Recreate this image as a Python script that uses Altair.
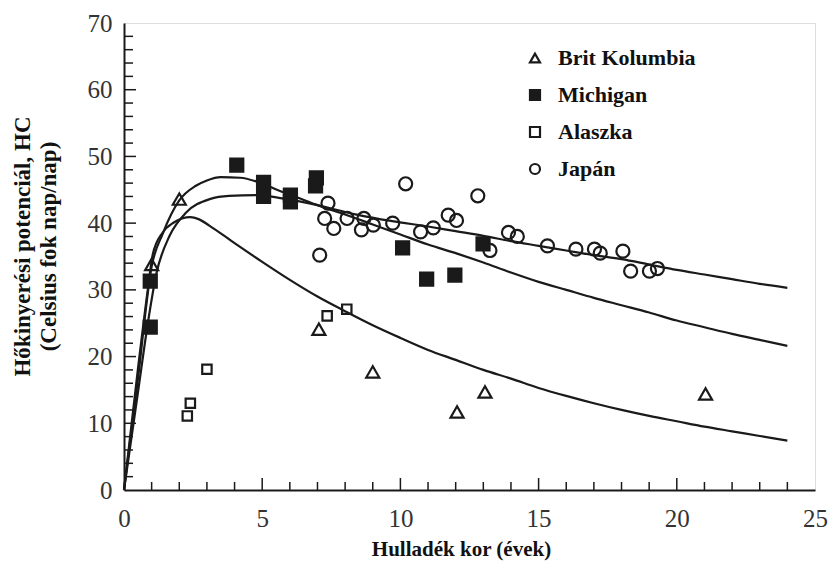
import altair as alt
import pandas as pd

# ---- data ----
series_names = ["Brit Kolumbia", "Michigan", "Alaszka", "Japán"]

bk_x = [1.0, 2.0, 7.05, 9.0, 12.05, 13.06, 21.04]
bk_y = [33.8, 43.6, 24.1, 17.7, 11.7, 14.7, 14.4]

mi_x = [0.95, 0.95, 4.08, 5.05, 5.05, 6.02, 6.02, 6.96, 6.93, 10.08, 10.95, 11.97, 12.99]
mi_y = [31.3, 24.4, 48.7, 46.1, 44.0, 44.2, 43.2, 46.8, 45.6, 36.3, 31.6, 32.2, 36.9]

al_x = [2.29, 2.4, 3.0, 7.35, 8.06]
al_y = [11.1, 13.0, 18.1, 26.1, 27.1]

jp_x = [7.08, 7.38, 7.26, 7.59, 8.07, 8.59, 8.68, 9.02, 9.72, 10.19, 10.73, 11.19,
        11.73, 12.03, 12.8, 13.24, 13.91, 14.23, 15.32, 16.35, 17.02, 17.23, 18.05,
        18.33, 19.01, 19.3]
jp_y = [35.2, 43.0, 40.7, 39.2, 40.7, 39.0, 40.7, 39.7, 40.0, 45.9, 38.7, 39.3,
        41.2, 40.4, 44.1, 35.9, 38.6, 38.0, 36.6, 36.1, 36.1, 35.5, 35.8,
        32.8, 32.8, 33.2]

# fitted curves
ca_x = [0, 0.5, 1.0, 1.4, 2.0, 2.6, 3.0, 3.5, 4.2, 4.9, 5.6, 6.3, 7.0, 8, 9, 10, 11,
        12, 13, 14, 15, 16, 17, 18, 19, 20, 21, 22, 23, 24]
ca_y = [0, 16.5, 33.5, 38.4, 43.4, 45.6, 46.4, 46.9, 46.8, 46.1, 44.9, 43.8, 42.7,
        41.3, 39.8, 38.3, 36.8, 35.5, 34.1, 32.6, 31.2, 30.0, 28.8, 27.7, 26.6, 25.4,
        24.4, 23.4, 22.5, 21.6]

cb_x = [0, 0.5, 0.9, 1.17, 1.65, 2.25, 3.1, 3.8, 4.9, 5.6, 6.3, 7.0, 7.5, 8.5, 9.7,
        11, 12, 13, 14, 15, 16, 17, 18, 19, 20, 21, 22, 23, 24]
cb_y = [0, 14.5, 26.0, 32.4, 38.1, 41.6, 43.6, 44.1, 44.2, 43.8, 43.3, 42.7, 42.2,
        41.2, 40.3, 39.5, 38.8, 38.1, 37.3, 36.6, 35.9, 35.2, 34.6, 33.8, 33.0, 32.3,
        31.6, 30.9, 30.3]

cc_x = [0, 0.5, 0.86, 1.04, 1.4, 1.8, 2.1, 2.4, 2.7, 3.1, 4, 5, 6, 7, 8, 9, 10, 11,
        12, 13, 14, 15, 16, 17, 18, 19, 20, 21, 22, 23, 24]
cc_y = [0, 18.0, 30.0, 35.3, 38.6, 40.1, 40.7, 40.9, 40.6, 39.6, 37.0, 34.2, 31.5,
        29.0, 26.8, 24.7, 22.8, 21.0, 19.5, 18.0, 16.7, 15.3, 14.1, 13.0, 12.0, 11.1,
        10.3, 9.5, 8.8, 8.1, 7.4]

x_major = [0, 5, 10, 15, 20, 25]
y_major = [0, 10, 20, 30, 40, 50, 60, 70]
x_minor = [v for v in range(1, 25) if v % 5 != 0]
x_maj_t = [5, 10, 15, 20]
y_minor = [v for v in range(2, 70, 2) if v % 10 != 0]
y_maj_t = [10, 20, 30, 40, 50, 60]

# ---- tables ----
pts_big = pd.concat([
    pd.DataFrame({"x": bk_x, "y": bk_y, "s": series_names[0]}),
    pd.DataFrame({"x": mi_x, "y": mi_y, "s": series_names[1]}),
    pd.DataFrame({"x": jp_x, "y": jp_y, "s": series_names[3]}),
], ignore_index=True)
pts_small = pd.DataFrame({"x": al_x, "y": al_y, "s": series_names[2]})

curves = pd.concat([
    pd.DataFrame({"x": ca_x, "y": ca_y, "c": "A"}),
    pd.DataFrame({"x": cb_x, "y": cb_y, "c": "B"}),
    pd.DataFrame({"x": cc_x, "y": cc_y, "c": "C"}),
], ignore_index=True)

W, H = 691, 467
INK = "#1a1a1a"
SERIF = "Liberation Serif"

xs = alt.Scale(domain=[0, 25], nice=False)
ys = alt.Scale(domain=[0, 70], nice=False)

x_axis = alt.Axis(values=x_major, ticks=False, tickSize=0, grid=False,
                  domainColor=INK, domainWidth=2,
                  labelFont=SERIF, labelFontSize=25, labelColor="#333",
                  labelPadding=16, labelFlush=False,
                  title="Hulladék kor (évek)", titleFont=SERIF, titleFontSize=21,
                  titleFontWeight="bold", titleColor="#111",
                  titleX=337, titleY=65, titleBaseline="alphabetic", titleAlign="center")
y_axis = alt.Axis(values=y_major, ticks=False, tickSize=0, grid=False,
                  domainColor=INK, domainWidth=2,
                  labelFont=SERIF, labelFontSize=25, labelColor="#333",
                  labelPadding=12, labelFlush=False,
                  title=["Hőkinyerési potenciál, HC", "(Celsius fok nap/nap)"],
                  titleFont=SERIF, titleFontSize=23, titleFontWeight="bold",
                  titleColor="#111", titleLineHeight=26,
                  titleX=-113, titleY=223, titleAngle=270,
                  titleAlign="center", titleBaseline="top")

leg = alt.Legend(title=None, orient="none", legendX=400, legendY=24, padding=0,
                 direction="vertical",
                 labelFont=SERIF, labelFontSize=22, labelFontWeight="bold",
                 labelColor="#111", symbolStrokeWidth=2.2, symbolSize=100,
                 rowPadding=15, labelOffset=12)

shape_enc = alt.Shape("s:N", scale=alt.Scale(domain=series_names,
                      range=["triangle-up", "square", "square", "circle"]), legend=leg)
fill_enc = alt.Fill("s:N", scale=alt.Scale(domain=series_names,
                    range=["transparent", INK, "transparent", "transparent"]), legend=leg)
stroke_enc = alt.Stroke("s:N", scale=alt.Scale(domain=series_names,
                        range=[INK, INK, INK, INK]), legend=leg)

lines = alt.Chart(curves).mark_line(color=INK, strokeWidth=2.2, interpolate="monotone").encode(
    x=alt.X("x:Q", scale=xs, axis=x_axis),
    y=alt.Y("y:Q", scale=ys, axis=y_axis),
    detail="c:N",
)

points_big = alt.Chart(pts_big).mark_point(strokeWidth=2.2, opacity=1, size=170).encode(
    x=alt.X("x:Q", scale=xs), y=alt.Y("y:Q", scale=ys),
    shape=shape_enc, fill=fill_enc, stroke=stroke_enc,
)
points_small = alt.Chart(pts_small).mark_point(strokeWidth=2.2, opacity=1, size=88).encode(
    x=alt.X("x:Q", scale=xs), y=alt.Y("y:Q", scale=ys),
    shape=shape_enc, fill=fill_enc, stroke=stroke_enc,
)

def xticks(vals, length):
    return alt.Chart(pd.DataFrame({"x": vals})).mark_rule(color=INK, strokeWidth=1.5).encode(
        x=alt.X("x:Q", scale=xs), y=alt.value(H), y2=alt.value(H - length))

def yticks(vals, length):
    return alt.Chart(pd.DataFrame({"y": vals})).mark_rule(color=INK, strokeWidth=1.5).encode(
        y=alt.Y("y:Q", scale=ys), x=alt.value(0), x2=alt.value(length))

chart = alt.layer(
    xticks(x_minor, 8), xticks(x_maj_t, 12),
    yticks(y_minor, 9), yticks(y_maj_t, 12),
    lines, points_big, points_small,
).properties(
    width=W, height=H,
    autosize=alt.AutoSizeParams(type="none"),
    padding={"left": 124, "top": 23, "right": 17, "bottom": 78},
).configure_view(
    stroke="#777", strokeWidth=1.5
).configure(background="white")

chart.save("out.html", embed_options={"renderer": "svg", "actions": False})
